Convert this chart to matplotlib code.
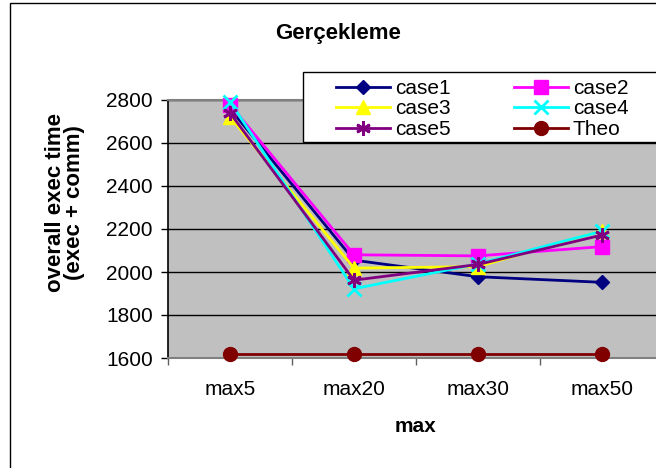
import matplotlib
matplotlib.use("Agg")
import matplotlib.pyplot as plt
from matplotlib.patches import Rectangle
from matplotlib.ticker import FixedLocator

plt.rcParams['font.family'] = ['Liberation Sans', 'DejaVu Sans']

categories = ["max5", "max20", "max30", "max50"]
case1 = [2760, 2055, 1978, 1952]
case2 = [2778, 2080, 2075, 2118]
case3 = [2722, 2018, 2025, 2192]
case4 = [2792, 1922, 2038, 2190]
case5 = [2740, 1962, 2035, 2172]
theo = [1620, 1620, 1620, 1620]
series_names = ["case1", "case2", "case3", "case4", "case5", "Theo"]
y_ticks = [1600, 1800, 2000, 2200, 2400, 2600, 2800]

W, H = 656, 468
fig = plt.figure(figsize=(W / 100, H / 100), dpi=100)
fig.patch.set_facecolor("white")

# outer chart border
fig.add_artist(Rectangle((10 / W, -0.2), 1.2, 1.2 - 3 / H, transform=fig.transFigure,
                         facecolor="none", edgecolor="black", linewidth=1.0))

ax = fig.add_axes([168 / W, 1 - 358 / H, (664 - 168) / W, (358 - 100) / H])
ax.set_facecolor("#C0C0C0")

x = list(range(len(categories)))
styles = [
    dict(color="#000080", marker="D", ms=7.5),
    dict(color="#FF00FF", marker="s", ms=9.5),
    dict(color="#FFFF00", marker="^", ms=10.5),
    dict(color="#00FFFF", marker="x", ms=9.5, mew=2),
    dict(color="#800080", marker=(6, 2, 0), ms=10.5, mew=2),
    dict(color="#800000", marker="o", ms=10),
]
handles = []
for data, name, st in zip([case1, case2, case3, case4, case5, theo], series_names, styles):
    (h,) = ax.plot(x, data, linewidth=2, label=name, clip_on=False, zorder=3, **st)
    handles.append(h)

ax.set_xlim(-0.5, 3.5)
ax.set_ylim(1600, 2800)
ax.set_yticks(y_ticks)
ax.yaxis.grid(True, color="black", linewidth=1)
ax.set_axisbelow(True)

ax.set_xticks(x)
ax.set_xticklabels(categories, fontsize=15)
ax.xaxis.set_minor_locator(FixedLocator([-0.5, 0.5, 1.5, 2.5, 3.5]))
ax.tick_params(axis="x", which="major", length=0, pad=16)
ax.tick_params(axis="x", which="minor", length=5, width=1, color="#606060", direction="out")
ax.tick_params(axis="y", which="major", length=5, width=1, color="black", direction="out",
               labelsize=15, pad=6)

for s in ["top", "bottom"]:
    ax.spines[s].set_color("#808080")
    ax.spines[s].set_linewidth(1.5)
ax.spines["left"].set_color("black")
ax.spines["left"].set_linewidth(1.2)
ax.spines["right"].set_visible(False)

fig.text(338 / W, 1 - 33 / H, "Gerçekleme", ha="center", va="center",
         fontsize=16, fontweight="bold")
fig.text(416 / W, 1 - 427 / H, "max", ha="center", va="center",
         fontsize=15, fontweight="bold")
fig.text(65 / W, 1 - 203 / H, "overall exec time\n(exec + comm)", ha="center", va="center",
         rotation=90, fontsize=16, fontweight="bold", multialignment="center",
         linespacing=0.9)

# legend box
fig.add_artist(Rectangle((303 / W, 1 - 142 / H), 0.6, 70 / H, transform=fig.transFigure,
                         facecolor="white", edgecolor="black", linewidth=1.0, zorder=4))
order = [0, 2, 4, 1, 3, 5]
leg = fig.legend([handles[i] for i in order], [series_names[i] for i in order],
                 ncol=2, loc="upper left", bbox_to_anchor=(336 / W, 1 - 79 / H),
                 frameon=False, fontsize=15, handlelength=2.6, handletextpad=0.25,
                 columnspacing=3.0, labelspacing=0.07, borderpad=0.0, borderaxespad=0.0)
leg.set_zorder(5)

fig.savefig("out.png", dpi=100)
